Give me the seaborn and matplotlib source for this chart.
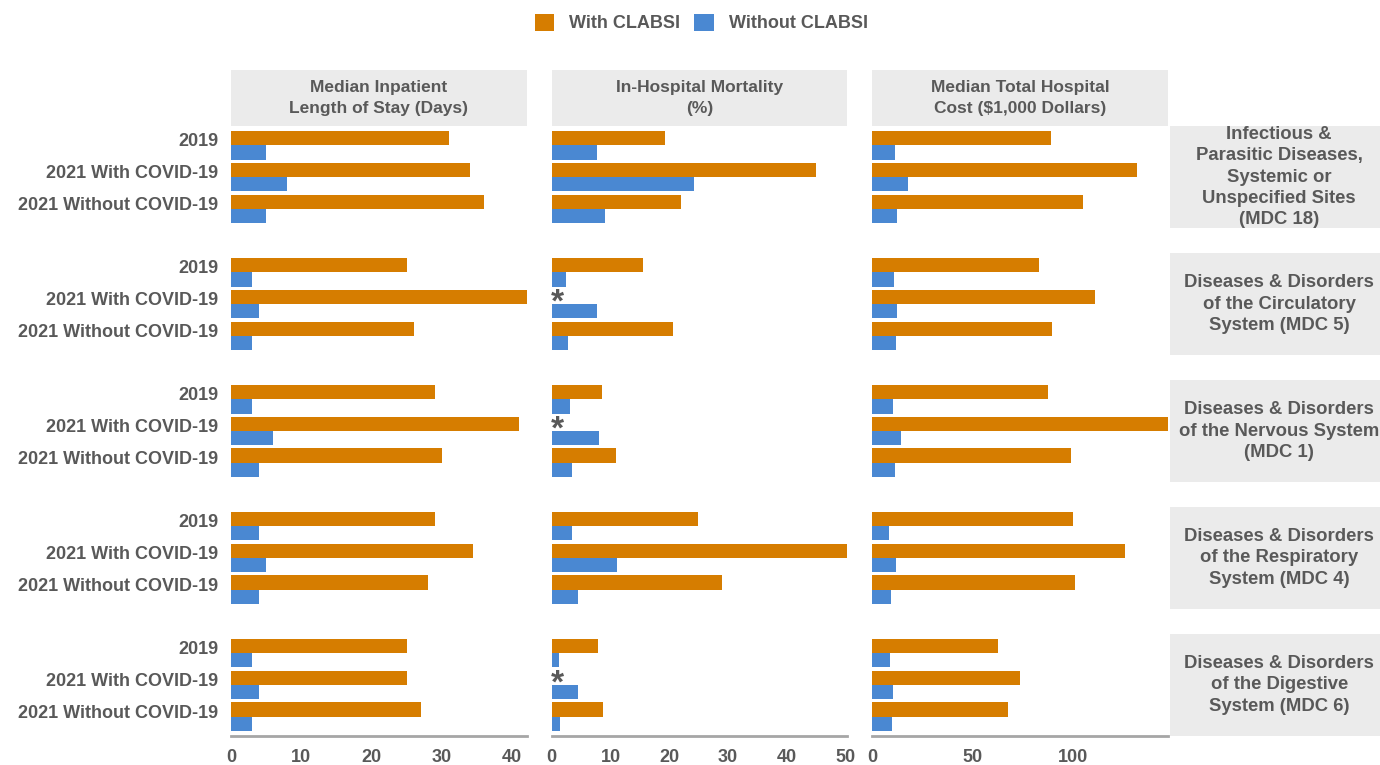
import numpy as np
import pandas as pd
import matplotlib
matplotlib.use("Agg")
import matplotlib.pyplot as plt
import seaborn as sns
from matplotlib.patches import Rectangle, Patch

years = ["2019", "2021 With COVID-19", "2021 Without COVID-19"]
groups = ["With CLABSI", "Without CLABSI"]
mdcs = [
    "Infectious &\nParasitic Diseases,\nSystemic or\nUnspecified Sites\n(MDC 18)",
    "Diseases & Disorders\nof the Circulatory\nSystem (MDC 5)",
    "Diseases & Disorders\nof the Nervous System\n(MDC 1)",
    "Diseases & Disorders\nof the Respiratory\nSystem (MDC 4)",
    "Diseases & Disorders\nof the Digestive\nSystem (MDC 6)",
]
metrics = [
    "Median Inpatient\nLength of Stay (Days)",
    "In-Hospital Mortality\n(%)",
    "Median Total Hospital\nCost ($1,000 Dollars)",
]

# rows = MDC, cols = 2019 / 2021 with COVID / 2021 without COVID
los_with = [[31, 34, 36], [25, 42.5, 26], [29, 41, 30], [29, 34.5, 28], [25, 25, 27]]
los_without = [[5, 8, 5], [3, 4, 3], [3, 6, 4], [4, 5, 4], [3, 4, 3]]
mort_with = [[19.2, 44.9, 22.0], [15.6, np.nan, 20.7], [8.5, np.nan, 11.0],
             [24.9, 50.5, 28.9], [7.9, np.nan, 8.7]]
mort_without = [[7.7, 24.2, 9.0], [2.4, 7.7, 2.7], [3.2, 8.1, 3.5],
                [3.5, 11.1, 4.4], [1.2, 4.5, 1.5]]
cost_with = [[89, 132, 105], [83, 111, 89.5], [87.5, 150, 99],
             [100, 126, 101], [62.5, 73.5, 67.5]]
cost_without = [[11.3, 17.6, 12.4], [10.8, 12.1, 12], [10.3, 14.3, 11.3],
                [8.5, 11.6, 9.3], [8.8, 10.4, 9.7]]

x_limits = [42.1, 50.3, 147.5]
x_ticks = [[0, 10, 20, 30, 40], [0, 10, 20, 30, 40, 50], [0, 50, 100]]

with_vals = [los_with, mort_with, cost_with]
without_vals = [los_without, mort_without, cost_without]

records = []
for mi, metric in enumerate(metrics):
    for ri, mdc in enumerate(mdcs):
        for ci, yr in enumerate(years):
            records.append((metric, mdc, yr, groups[0], with_vals[mi][ri][ci]))
            records.append((metric, mdc, yr, groups[1], without_vals[mi][ri][ci]))
df = pd.DataFrame(records, columns=["metric", "mdc", "year", "group", "value"])

orange = "#D67D00"
blue = "#4A88D2"
palette = {groups[0]: orange, groups[1]: blue}
txt = "#595959"
box = "#EBEBEB"

sns.set_style("white")
plt.rcParams["font.family"] = ["Liberation Sans", "DejaVu Sans"]

fig, axes = plt.subplots(5, 3, figsize=(13.8, 7.65), dpi=100)
fig.subplots_adjust(left=0.1674, right=0.8464, top=0.8353, bottom=0.0379,
                    wspace=0.0845, hspace=0.24)

for r, mdc in enumerate(mdcs):
    for c, metric in enumerate(metrics):
        ax = axes[r, c]
        sub = df[(df["mdc"] == mdc) & (df["metric"] == metric)]
        sns.barplot(data=sub, y="year", x="value", hue="group", order=years,
                    hue_order=groups, palette=palette, orient="h", width=0.9,
                    errorbar=None, saturation=1, linewidth=0, legend=False, ax=ax)
        ax.set_xlim(0, x_limits[c])
        ax.set_ylim(2.61, -0.61)
        ax.set_xlabel("")
        ax.set_ylabel("")
        for s in ["top", "right", "left"]:
            ax.spines[s].set_visible(False)
        ax.tick_params(length=0)
        ax.set_xticks(x_ticks[c])
        if r == 4:
            ax.spines["bottom"].set_color("#A6A6A6")
            ax.spines["bottom"].set_linewidth(2)
            ax.tick_params(axis="x", pad=9)
            for lab in ax.get_xticklabels():
                lab.set_family(["Liberation Sans Narrow", "Liberation Sans"])
                lab.set_fontsize(13)
                lab.set_fontweight("bold")
                lab.set_color(txt)
        else:
            ax.spines["bottom"].set_visible(False)
            ax.set_xticklabels([])
        # labels sit a little above the category centre, as in the source
        ax.set_yticks([i - 0.17 for i in range(3)])
        if c == 0:
            ax.set_yticklabels(years, fontsize=13, fontweight="bold", color=txt)
            ax.tick_params(axis="y", pad=9)
        else:
            ax.set_yticklabels([])
        # asterisk where no CLABSI mortality value is shown
        if c == 1:
            for ci, yr in enumerate(years):
                if np.isnan(mort_with[r][ci]):
                    ax.text(1.0, ci - 0.225 + 0.2, "*", ha="center", va="center",
                            fontsize=24, fontweight="bold", color=txt)

# column header boxes
hdr_h = 56 / 765
for c, metric in enumerate(metrics):
    pos = axes[0, c].get_position()
    fig.add_artist(Rectangle((pos.x0, pos.y1), pos.width, hdr_h,
                             transform=fig.transFigure, facecolor=box,
                             edgecolor="none", zorder=0))
    fig.text((pos.x0 + pos.x1) / 2, pos.y1 + hdr_h / 2, metric, ha="center",
             va="center", fontsize=12.5, fontweight="bold", color=txt,
             linespacing=1.5)

# row label boxes
bx0 = 1170 / 1380
for r, mdc in enumerate(mdcs):
    pos = axes[r, 2].get_position()
    fig.add_artist(Rectangle((bx0, pos.y0), 1 - bx0, pos.height,
                             transform=fig.transFigure, facecolor=box,
                             edgecolor="none", zorder=0))
    fig.text((bx0 + 1) / 2 + 0.003, (pos.y0 + pos.y1) / 2, mdc, ha="center",
             va="center", fontsize=13.3, fontweight="bold", color=txt,
             linespacing=1.33)

handles = [Patch(facecolor=palette[g], edgecolor="none", label=g) for g in groups]
fig.legend(handles=handles, loc="center", bbox_to_anchor=(0.508, 0.97), ncol=2,
           frameon=False, handlelength=1.1, handleheight=1.1, handletextpad=0.8,
           columnspacing=0.8, prop={"size": 13, "weight": "bold"},
           labelcolor=txt)

fig.savefig("out.png", dpi=100)
